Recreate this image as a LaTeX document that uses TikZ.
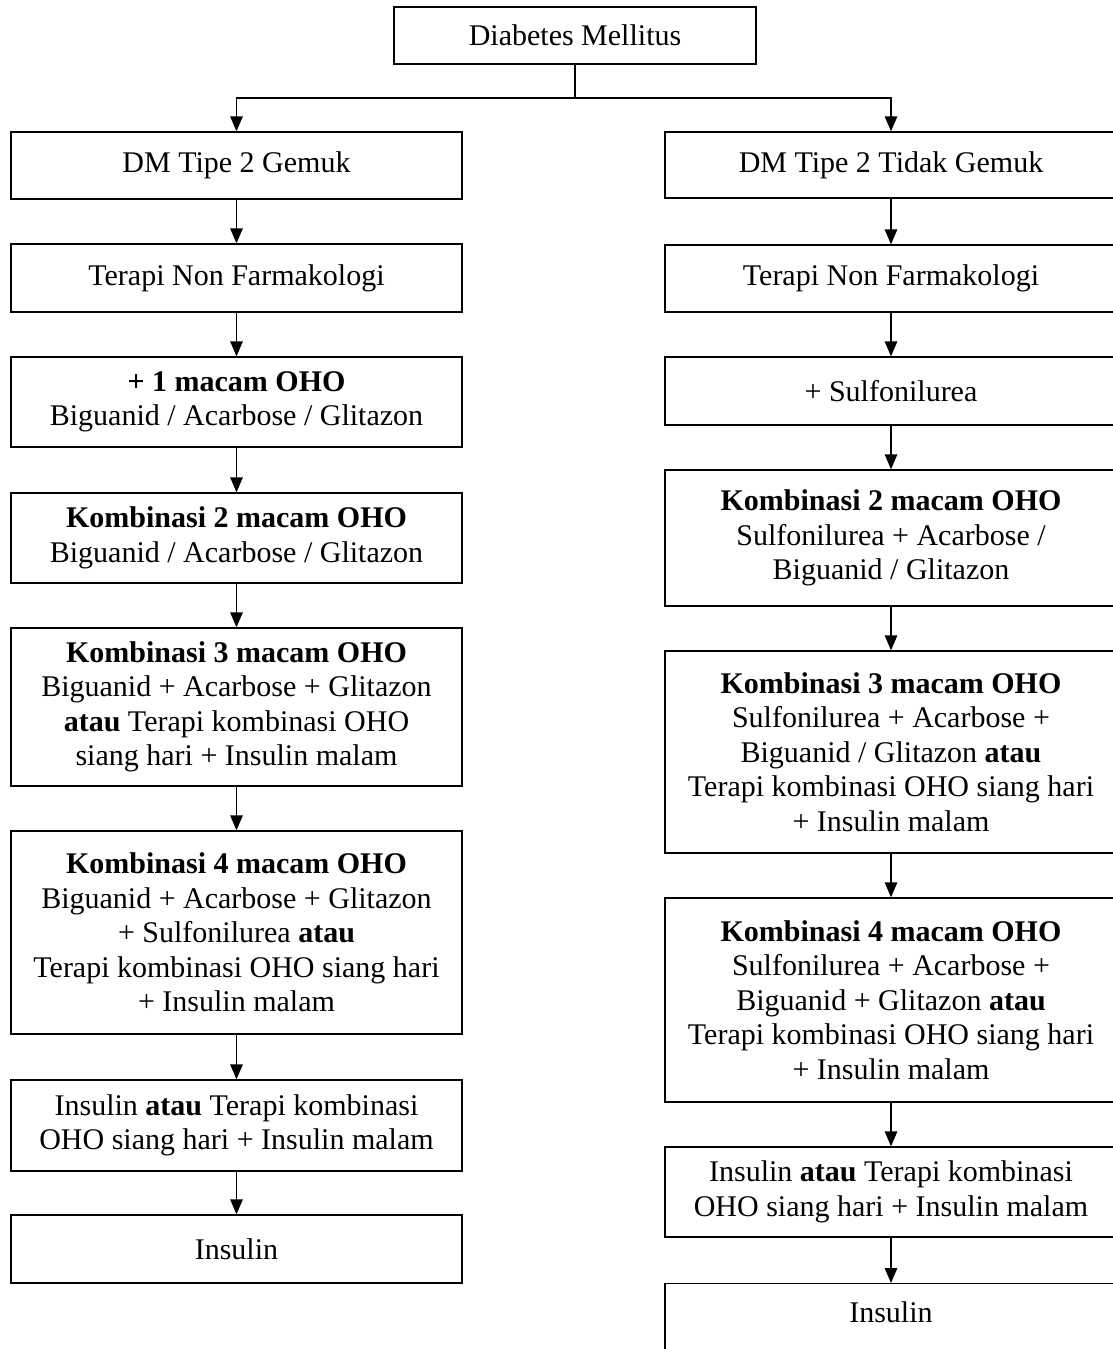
\documentclass[tikz,border=0pt]{standalone}
\usepackage{fontspec}
\setmainfont{Liberation Serif}
\usetikzlibrary{arrows.meta}
\tikzset{
  box/.style={draw, line width=0.55pt, rectangle, inner sep=0pt, align=center,
    font=\fontsize{12pt}{13.8pt}\selectfont},
  lcol/.style={box, minimum width=180.4pt},
  rcol/.style={box, minimum width=180.8pt},
  conn/.style={line width=0.55pt},
  arr/.style={conn, -{Triangle[width=5pt,length=6pt]}}
}
\begin{document}
\begin{tikzpicture}[x=0.4pt,y=-0.4pt]
\useasboundingbox (0,0) rectangle (1113,1349);
\clip (0,0) rectangle (1113,1349);
\fill[white] (0,0) rectangle (1113,1349);

% top
\node[box, minimum width=144.8pt, minimum height=22.8pt] (top) at (575,35.5) {Diabetes Mellitus};
\coordinate (split) at (575,98);

% left column
\node[lcol, minimum height=26.8pt] (L1) at (236.5,165.5) {DM Tipe 2 Gemuk};
\node[lcol, minimum height=27.2pt] (L2) at (236.5,278) {Terapi Non Farmakologi};
\node[lcol, minimum height=36pt] (L3) at (236.5,402) {\textbf{+ 1 macam OHO}\\Biguanid / Acarbose / Glitazon};
\node[lcol, minimum height=36pt] (L4) at (236.5,538) {\textbf{Kombinasi 2 macam OHO}\\Biguanid / Acarbose / Glitazon};
\node[lcol, minimum height=63.2pt] (L5) at (236.5,707) {\textbf{Kombinasi 3 macam OHO}\\Biguanid + Acarbose + Glitazon\\\textbf{atau} Terapi kombinasi OHO\\siang hari + Insulin malam};
\node[lcol, minimum height=81.2pt] (L6) at (236.5,932.5) {\textbf{Kombinasi 4 macam OHO}\\Biguanid + Acarbose + Glitazon\\+ Sulfonilurea \textbf{atau}\\Terapi kombinasi OHO siang hari\\+ Insulin malam};
\node[lcol, minimum height=36.4pt] (L7) at (236.5,1125.5) {Insulin \textbf{atau} Terapi kombinasi\\OHO siang hari + Insulin malam};
\node[lcol, minimum height=27.2pt] (L8) at (236.5,1249) {Insulin};

% right column
\node[rcol, minimum height=26.4pt] (R1) at (891,165) {DM Tipe 2 Tidak Gemuk};
\node[rcol, minimum height=26.8pt] (R2) at (891,278.5) {Terapi Non Farmakologi};
\node[rcol, minimum height=27.2pt] (R3) at (891,391) {+ Sulfonilurea};
\node[rcol, minimum height=54.4pt] (R4) at (891,538) {\textbf{Kombinasi 2 macam OHO}\\Sulfonilurea + Acarbose /\\Biguanid / Glitazon};
\node[rcol, minimum height=80.8pt] (R5) at (891,752) {\textbf{Kombinasi 3 macam OHO}\\Sulfonilurea + Acarbose +\\Biguanid / Glitazon \textbf{atau}\\Terapi kombinasi OHO siang hari\\+ Insulin malam};
\node[rcol, minimum height=81.6pt] (R6) at (891,1000) {\textbf{Kombinasi 4 macam OHO}\\Sulfonilurea + Acarbose +\\Biguanid + Glitazon \textbf{atau}\\Terapi kombinasi OHO siang hari\\+ Insulin malam};
\node[rcol, minimum height=36pt] (R7) at (891,1192) {Insulin \textbf{atau} Terapi kombinasi\\OHO siang hari + Insulin malam};
\node[rcol, minimum height=28pt, anchor=north] (R8) at (891,1283) {\raisebox{2.4pt}[\height][\depth]{Insulin}};

% connectors
\draw[conn] (top.south) -- (split);
\draw[arr] (split) -| (L1.north);
\draw[arr] (split) -| (R1.north);
\foreach \a/\b in {L1/L2,L2/L3,L3/L4,L4/L5,L5/L6,L6/L7,L7/L8,R1/R2,R2/R3,R3/R4,R4/R5,R5/R6,R6/R7,R7/R8}
  \draw[arr] (\a.south) -- (\b.north);
\end{tikzpicture}
\end{document}
